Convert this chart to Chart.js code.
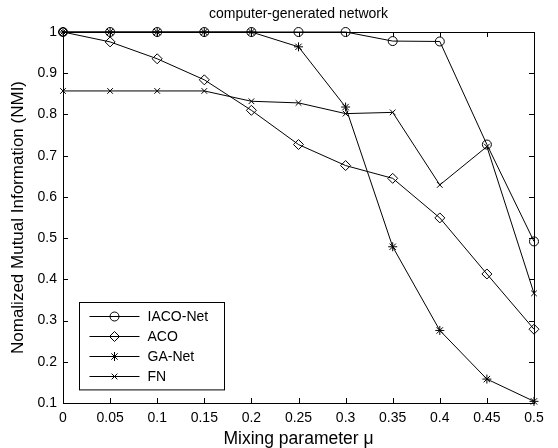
<!DOCTYPE html>
<html>
<head>
<meta charset="utf-8">
<script src="https://cdn.jsdelivr.net/npm/chart.js@4.4.0/dist/chart.umd.min.js"></script>
<style>
  html, body { margin: 0; padding: 0; background: #fff; }
  #wrap { width: 558px; height: 448px; position: relative; }
</style>
</head>
<body>
<div id="wrap"><canvas id="nmiChart"></canvas></div>
<script>
const FONT = "'Liberation Sans', Arial, Helvetica, sans-serif";

/* -------------------- DATA -------------------- */
const MIXING = [0, 0.05, 0.1, 0.15, 0.2, 0.25, 0.3, 0.35, 0.4, 0.45, 0.5];
const IACO_NET = [1, 1, 1, 1, 1, 1, 1, 0.978, 0.977, 0.727, 0.492];
const ACO = [1, 0.976, 0.935, 0.884, 0.810, 0.727, 0.676, 0.645, 0.549, 0.413, 0.279];
const GA_NET = [1, 1, 1, 1, 1, 0.964, 0.818, 0.479, 0.276, 0.158, 0.104];
const FN = [0.857, 0.857, 0.857, 0.857, 0.832, 0.828, 0.802, 0.805, 0.629, 0.722, 0.366];

const X_TICKS = [0, 0.05, 0.1, 0.15, 0.2, 0.25, 0.3, 0.35, 0.4, 0.45, 0.5];
const Y_TICKS = [0.1, 0.2, 0.3, 0.4, 0.5, 0.6, 0.7, 0.8, 0.9, 1];

const SERIES_NAMES = ["IACO-Net", "ACO", "GA-Net", "FN"];
const SERIES_VALUES = [IACO_NET, ACO, GA_NET, FN];
const MARKERS = [
    { style: "circle", radius: 4.5 },
    { style: "rectRot", radius: 5 },
    { style: "star", radius: 4.5 },
    { style: "crossRot", radius: 4 }
];
const CHART_TITLE = "computer-generated network";

/* -------------------- PLUGINS -------------------- */
// box around the axes with inward tick marks + title centred over the axes
const framePlugin = {
    id: "frame",
    afterDatasetsDraw(chart) {
        const { ctx, chartArea: a, scales: { x, y } } = chart;
        const len = 5;
        ctx.save();
        ctx.strokeStyle = "#000";
        ctx.lineWidth = 1;
        ctx.beginPath();
        X_TICKS.forEach(v => {
            const px = Math.round(x.getPixelForValue(v)) + 0.5;
            ctx.moveTo(px, a.bottom); ctx.lineTo(px, a.bottom - len);
            ctx.moveTo(px, a.top); ctx.lineTo(px, a.top + len);
        });
        Y_TICKS.forEach(v => {
            const py = Math.round(y.getPixelForValue(v)) + 0.5;
            ctx.moveTo(a.left, py); ctx.lineTo(a.left + len, py);
            ctx.moveTo(a.right, py); ctx.lineTo(a.right - len, py);
        });
        ctx.stroke();
        ctx.strokeRect(Math.round(a.left) + 0.5, Math.round(a.top) + 0.5,
            Math.round(a.right - a.left), Math.round(a.bottom - a.top));

        ctx.fillStyle = "#000";
        ctx.font = "14px " + FONT;
        ctx.textAlign = "center";
        ctx.textBaseline = "middle";
        ctx.fillText(CHART_TITLE, (a.left + a.right) / 2, 14);
        ctx.restore();
    }
};

// legend box in the lower-left corner of the plot
const legendPlugin = {
    id: "boxLegend",
    afterDraw(chart) {
        const { ctx, chartArea: a } = chart;
        const boxW = 145, rowH = 20.3, padY = 13;
        const boxH = rowH * (SERIES_NAMES.length - 1) + padY * 2 + 0.5;
        const left = Math.round(a.left + 16) + 0.5;
        const top = Math.round(a.bottom - 14 - boxH) + 0.5;
        ctx.save();
        ctx.fillStyle = "#fff";
        ctx.fillRect(left, top, boxW, boxH);
        ctx.strokeStyle = "#000";
        ctx.lineWidth = 1;
        ctx.strokeRect(left, top, boxW, boxH);
        ctx.font = "14px " + FONT;
        ctx.textBaseline = "middle";
        SERIES_NAMES.forEach((name, i) => {
            const cy = Math.round(top + padY + i * rowH) + 0.5;
            ctx.beginPath();
            ctx.moveTo(left + 10, cy);
            ctx.lineTo(left + 60, cy);
            ctx.stroke();
            ctx.fillStyle = "rgba(0,0,0,0)";
            Chart.helpers.drawPoint(ctx, {
                pointStyle: MARKERS[i].style,
                radius: MARKERS[i].radius,
                rotation: 0,
                borderWidth: 1
            }, left + 35, cy);
            ctx.fillStyle = "#000";
            ctx.fillText(name, left + 68, cy + 1);
        });
        ctx.restore();
    }
};

/* -------------------- CHART -------------------- */
const datasets = SERIES_NAMES.map((name, i) => ({
    label: name,
    data: MIXING.map((m, j) => ({ x: m, y: SERIES_VALUES[i][j] })),
    borderColor: "#000",
    borderWidth: 1,
    backgroundColor: "rgba(0,0,0,0)",
    pointStyle: MARKERS[i].style,
    pointRadius: MARKERS[i].radius,
    pointBorderColor: "#000",
    pointBackgroundColor: "rgba(0,0,0,0)",
    pointBorderWidth: 1,
    tension: 0,
    clip: false
}));

function tickText(v) {
    return String(Number(v.toFixed(2)));
}

new Chart(document.getElementById("nmiChart"), {
    type: "line",
    data: { datasets },
    plugins: [framePlugin, legendPlugin],
    options: {
        responsive: true,
        maintainAspectRatio: false,
        animation: false,
        layout: { padding: { left: 0, right: 24, top: 32, bottom: 0 } },
        plugins: {
            legend: { display: false },
            tooltip: { enabled: false },
            title: { display: false }
        },
        scales: {
            x: {
                type: "linear",
                min: 0,
                max: 0.5,
                afterBuildTicks: s => { s.ticks = X_TICKS.map(v => ({ value: v })); },
                afterFit: s => { s.height = 45; },
                grid: { display: false, drawTicks: false },
                border: { display: false },
                ticks: {
                    color: "#000",
                    padding: 7,
                    maxRotation: 0,
                    autoSkip: false,
                    font: { family: FONT, size: 14 },
                    callback: v => tickText(v)
                },
                title: {
                    display: true,
                    text: "Mixing parameter \u03bc",
                    color: "#000",
                    font: { family: FONT, size: 17.5, lineHeight: 1 },
                    padding: { top: 0, bottom: 0 }
                }
            },
            y: {
                type: "linear",
                min: 0.1,
                max: 1,
                afterBuildTicks: s => { s.ticks = Y_TICKS.map(v => ({ value: v })); },
                afterFit: s => { s.width = 63; },
                grid: { display: false, drawTicks: false },
                border: { display: false },
                ticks: {
                    color: "#000",
                    padding: 6,
                    autoSkip: false,
                    font: { family: FONT, size: 14 },
                    callback: v => tickText(v)
                },
                title: {
                    display: true,
                    text: "Nomalized Mutual Information (NMI)",
                    color: "#000",
                    font: { family: FONT, size: 17, lineHeight: 1 },
                    padding: { top: 10, bottom: 0 }
                }
            }
        }
    }
});
</script>
</body>
</html>
